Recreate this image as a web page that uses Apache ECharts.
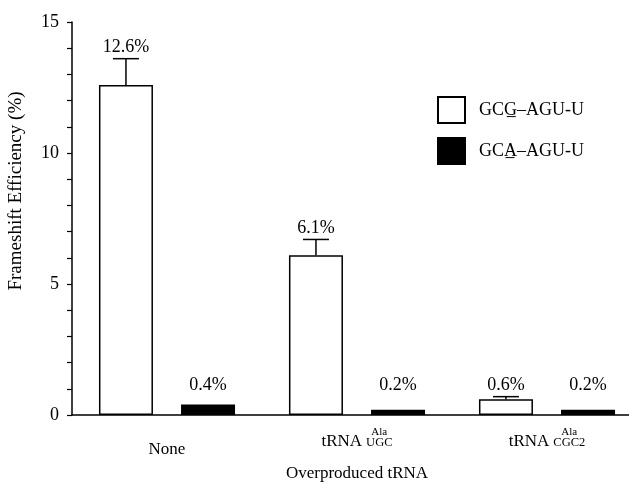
<!DOCTYPE html>
<html>
<head>
<meta charset="utf-8">
<script src="https://cdn.jsdelivr.net/npm/echarts@6/dist/echarts.min.js"></script>
<style>
html,body{margin:0;padding:0;background:#fff;}
#c{width:629px;height:483px;}
</style>
</head>
<body>
<div id="c"></div>
<script>
// ---- data ----
const categories = ['None', 'tRNA Ala UGC', 'tRNA Ala CGC2'];
const seriesNames = ['GCG\u0332\u2013AGU-U', 'GCA\u0332\u2013AGU-U'];
const gcgValues = [12.6, 6.1, 0.6];
const gcgErrors = [1.0, 0.6, 0.1];
const gcgLabels = ['12.6%', '6.1%', '0.6%'];
const gcaValues = [0.4, 0.2, 0.2];
const gcaErrors = [0, 0, 0];
const gcaLabels = ['0.4%', '0.2%', '0.2%'];
const yTicks = [0, 5, 10, 15];

// ---- styles ----
const FONT = 'Liberation Serif';
const BAR_W = 54;
const GAP = 0.52;
const OFFSET = (BAR_W + BAR_W * GAP) / 2;

function errSeries(vals, errs, labels, sign) {
  return {
    type: 'custom',
    z: 5,
    silent: true,
    data: vals.map((v, i) => [i, v, errs[i]]),
    renderItem: function (params, api) {
      const i = api.value(0), v = api.value(1), e = api.value(2);
      const base = api.coord([i, v]);
      const top = api.coord([i, v + e]);
      const x = base[0] + sign * OFFSET;
      const children = [];
      if (e > 0) {
        children.push({type: 'line', shape: {x1: x, y1: base[1], x2: x, y2: top[1]}, style: {stroke: '#000', lineWidth: 1.5}});
        children.push({type: 'line', shape: {x1: x - 13, y1: top[1], x2: x + 13, y2: top[1]}, style: {stroke: '#000', lineWidth: 1.5}});
      }
      const ly = api.coord([i, Math.max(v + e, 0.7)])[1] - 11;
      children.push({type: 'text', style: {text: labels[params.dataIndex], x: x, y: ly, align: 'center', verticalAlign: 'middle', fontFamily: FONT, fontSize: 18, fill: '#000'}});
      return {type: 'group', children: children};
    }
  };
}

const chart = echarts.init(document.getElementById('c'), null, {renderer: 'canvas'});
chart.setOption({
  backgroundColor: '#fff',
  animation: false,
  textStyle: {fontFamily: FONT, color: '#000'},
  grid: {left: 72, top: 22, width: 570, height: 393, containLabel: false, outerBoundsMode: 'none'},
  legend: {
    orient: 'vertical', left: 432, top: 91,
    itemWidth: 27, itemHeight: 26, itemGap: 13,
    textStyle: {fontFamily: FONT, fontSize: 18, color: '#000', padding: [0, 0, 0, 9]},
    data: seriesNames.map(n => ({name: n, icon: 'rect'}))
  },
  xAxis: {
    type: 'category',
    data: categories,
    axisLine: {lineStyle: {color: '#000', width: 1.5}},
    axisTick: {show: false},
    axisLabel: {
      margin: 14, interval: 0, color: '#000',
      formatter: function (val) {
        const p = val.split(' ');
        if (p.length === 1) return '{n|' + p[0] + '}';
        return '{hid|' + p[0] + '}{sup|' + p[1] + '}\n{base|' + p[0] + '}{sub|' + p[2] + '}';
      },
      rich: {
        n: {fontFamily: FONT, fontSize: 17, lineHeight: 42, color: '#000'},
        hid: {fontFamily: FONT, fontSize: 17, lineHeight: 6, color: 'rgba(0,0,0,0)'},
        sup: {fontFamily: FONT, fontSize: 11, lineHeight: 6, color: '#000', padding: [0, 0, 0, 4]},
        base: {fontFamily: FONT, fontSize: 17, lineHeight: 14, color: '#000'},
        sub: {fontFamily: FONT, fontSize: 12.5, lineHeight: 8, verticalAlign: 'bottom', color: '#000', padding: [0, 0, 0, 4]}
      }
    },
    name: 'Overproduced tRNA',
    nameLocation: 'middle',
    nameGap: 50,
    nameTextStyle: {fontFamily: FONT, fontSize: 17, color: '#000'}
  },
  yAxis: {
    type: 'value',
    min: yTicks[0], max: yTicks[yTicks.length - 1], interval: 5,
    axisLine: {show: true, lineStyle: {color: '#000', width: 1.5}},
    axisTick: {show: true, length: 5, lineStyle: {color: '#000', width: 1.2}},
    minorTick: {show: true, splitNumber: 5, length: 5, lineStyle: {color: '#000', width: 1.2}},
    splitLine: {show: false},
    axisLabel: {margin: 13, fontFamily: FONT, fontSize: 18, color: '#000'},
    name: 'Frameshift Efficiency (%)',
    nameLocation: 'middle',
    nameGap: 46,
    nameTextStyle: {fontFamily: FONT, fontSize: 19, color: '#000', padding: [0, 0, 0, 55]}
  },
  series: [
    {
      name: seriesNames[0], type: 'bar', data: gcgValues,
      barWidth: BAR_W, barGap: (GAP * 100) + '%',
      itemStyle: {color: '#fff', borderColor: '#000', borderWidth: 1.5}
    },
    {
      name: seriesNames[1], type: 'bar', data: gcaValues,
      barWidth: BAR_W,
      itemStyle: {color: '#000', borderColor: '#000', borderWidth: 1.5}
    },
    errSeries(gcgValues, gcgErrors, gcgLabels, -1),
    errSeries(gcaValues, gcaErrors, gcaLabels, 1)
  ]
});
</script>
</body>
</html>
